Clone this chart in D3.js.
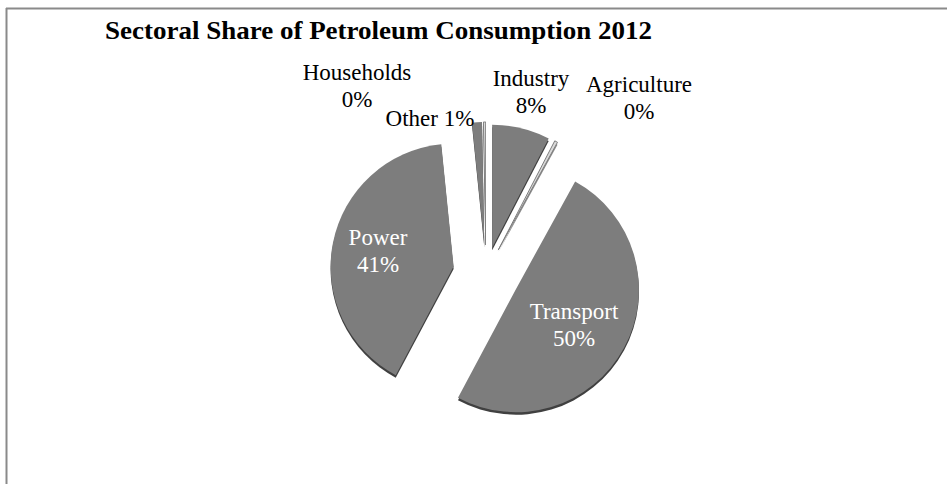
<!DOCTYPE html>
<html>
<head>
<meta charset="utf-8">
<script src="https://cdn.jsdelivr.net/npm/d3@7/dist/d3.min.js"></script>
<style>
  html, body { margin: 0; padding: 0; background: #fff; }
  svg { display: block; }
</style>
</head>
<body>
<svg id="chart" width="947" height="484"></svg>
<script>
// Sectoral share of petroleum consumption, 2012 (percent)
const sectors = ["Industry", "Agriculture", "Transport", "Power", "Other", "Households"];
const shares  = [7.6, 0.4, 49.8, 40.6, 1.3, 0.3];
const titleText = "Sectoral Share of Petroleum Consumption 2012";

// ---- layout ----
const W = 947, H = 484;
const center = [486, 273];
const radius = 123;
// how far each slice is pulled out from the centre, along its bisector
const explode = { Industry: 26, Agriculture: 26, Transport: 34, Power: 33, Other: 28, Households: 28 };
// label anchors (centre x, first baseline y), colour, single-line or two-line
const labelAt = {
  Households:  { x: 357, y: 80,  fill: "#000", inline: false },
  Other:       { x: 430, y: 126, fill: "#000", inline: true },
  Industry:    { x: 531, y: 86,  fill: "#000", inline: false },
  Agriculture: { x: 639, y: 92,  fill: "#000", inline: false },
  Power:       { x: 378, y: 245, fill: "#fff", inline: false },
  Transport:   { x: 574, y: 319, fill: "#fff", inline: false }
};
const lineGap = 27;

const svg = d3.select("#chart");

// outer frame (left and top rules)
svg.append("line").attr("x1", 6.5).attr("y1", 8).attr("x2", 6.5).attr("y2", H)
  .attr("stroke", "#8a8a8a").attr("stroke-width", 2);
svg.append("line").attr("x1", 6).attr("y1", 8.5).attr("x2", W).attr("y2", 8.5)
  .attr("stroke", "#8a8a8a").attr("stroke-width", 2);

// title
svg.append("text")
  .attr("x", 105).attr("y", 39)
  .attr("font-family", "'Liberation Serif', 'Times New Roman', serif")
  .attr("font-weight", "bold")
  .attr("font-size", 26)
  .attr("textLength", 547)
  .attr("lengthAdjust", "spacingAndGlyphs")
  .attr("fill", "#000")
  .text(titleText);

const rows = sectors.map((s, i) => ({ name: s, value: shares[i] }));
const total = d3.sum(shares);

const pie = d3.pie().value(d => d.value).sort(null).startAngle(0).endAngle(2 * Math.PI);
const arcs = pie(rows);
const arc = d3.arc().innerRadius(0).outerRadius(radius);

const defs = svg.append("defs");
const soft = defs.append("filter").attr("id", "soft").attr("x", "-10%").attr("y", "-10%")
  .attr("width", "120%").attr("height", "120%");
soft.append("feGaussianBlur").attr("stdDeviation", 0.6);

const pieG = svg.append("g").attr("transform", `translate(${center[0]},${center[1]})`);

function offset(d) {
  const a = (d.startAngle + d.endAngle) / 2;
  const e = explode[d.data.name];
  return [Math.sin(a) * e, -Math.cos(a) * e];
}

const thin = d => (d.endAngle - d.startAngle) < 0.03;

const slices = pieG.selectAll("g.slice").data(arcs).join("g")
  .attr("class", "slice")
  .attr("transform", d => { const o = offset(d); return `translate(${o[0]},${o[1]})`; })
  .attr("filter", "url(#soft)");

// side wall of the disc, seen below the rim
slices.append("path")
  .attr("d", arc)
  .attr("transform", "translate(0,2.5)")
  .attr("fill", d => thin(d) ? "#8a8a8a" : "#3f3f3f");

// top face
slices.append("path")
  .attr("d", arc)
  .attr("fill", d => thin(d) ? "#d9d9d9" : "#7d7d7d")
  .attr("stroke", d => thin(d) ? "#7d7d7d" : "none")
  .attr("stroke-width", 1);

// labels
const pct = v => Math.round(v / total * 100) + "%";
const labelG = svg.append("g")
  .attr("font-family", "'Liberation Serif', 'Times New Roman', serif")
  .attr("font-size", 23)
  .attr("text-anchor", "middle");

rows.forEach(r => {
  const p = labelAt[r.name];
  const t = labelG.append("text").attr("x", p.x).attr("y", p.y).attr("fill", p.fill);
  if (p.inline) {
    t.text(r.name + " " + pct(r.value));
  } else {
    t.append("tspan").attr("x", p.x).attr("y", p.y).text(r.name);
    t.append("tspan").attr("x", p.x).attr("y", p.y + lineGap).text(pct(r.value));
  }
});
</script>
</body>
</html>
